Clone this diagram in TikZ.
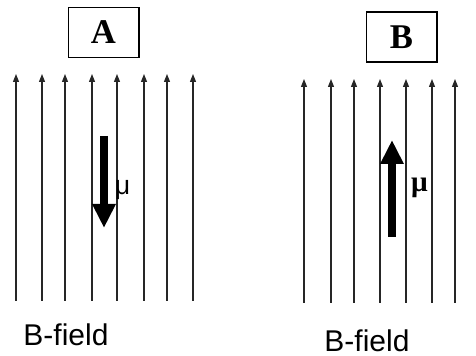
\documentclass[tikz,border=0pt]{standalone}
\usepackage{fontspec}
\setmainfont{Liberation Serif}
\setsansfont{Liberation Sans}
\usetikzlibrary{arrows.meta}
\begin{document}
\begin{tikzpicture}[x=0.75pt,y=-0.75pt,
  fieldline/.style={line width=1pt, draw=black!85, -{Triangle[length=6pt,width=4.5pt]}},
  moment/.style={line width=5.6pt, -{Triangle[length=18pt,width=16.5pt]}},
  labelbox/.style={draw, line width=1pt, minimum width=53pt, minimum height=37.5pt, inner sep=0pt, font=\fontsize{26}{26}\selectfont\bfseries},
  fieldlabel/.style={font=\sffamily\fontsize{22.5}{22.5}\selectfont, inner sep=0pt},
  mulabelA/.style={font=\sffamily\fontsize{20}{20}\selectfont, inner sep=0pt},
  mulabelB/.style={font=\bfseries\fontsize{22}{22}\selectfont, inner sep=0pt}]
\useasboundingbox (0,0) rectangle (476,356);
% Panel A
\node[labelbox] (boxA) at (103.5,32.5) {A};
\foreach \x [count=\i] in {16,42,65,92,117,144,167,193}{
  \coordinate (a\i b) at (\x,301);
  \coordinate (a\i t) at (\x,74);
  \draw[fieldline] (a\i b) -- (a\i t);
}
\coordinate (muAt) at (104,136);
\coordinate (muAb) at (104,228);
\draw[moment] (muAt) -- (muAb);
\node[mulabelA] (muA) at (122.5,190) {μ};
\node[fieldlabel] (fieldA) at (66,335) {B-field};
% Panel B
\node[labelbox] (boxB) at (401.5,37) {B};
\foreach \x [count=\i] in {304,331,354,380,406,432,455}{
  \coordinate (b\i b) at (\x,303);
  \coordinate (b\i t) at (\x,79);
  \draw[fieldline] (b\i b) -- (b\i t);
}
\coordinate (muBb) at (392,237);
\coordinate (muBt) at (392,140);
\draw[moment] (muBb) -- (muBt);
\node[mulabelB] (muB) at (419.5,188) {μ};
\node[fieldlabel] (fieldB) at (367,341) {B-field};
\end{tikzpicture}
\end{document}
